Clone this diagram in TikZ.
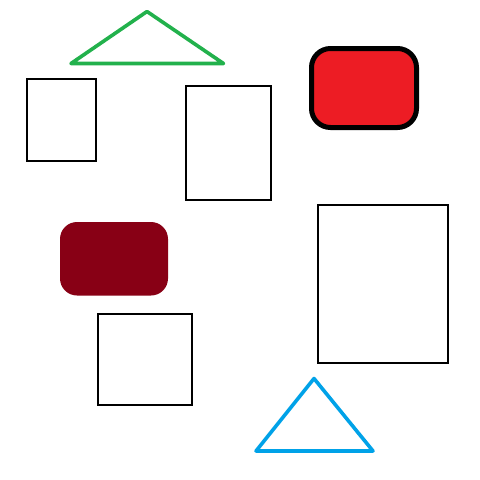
\documentclass[tikz,border=0pt]{standalone}
\usetikzlibrary{calc}
\definecolor{pgreen}{HTML}{22B14C}
\definecolor{pblue}{HTML}{00A2E8}
\definecolor{pred}{HTML}{ED1C24}
\definecolor{pdark}{HTML}{880015}
\begin{document}
\begin{tikzpicture}[x=1pt,y=-1pt,
  box/.style={draw=black,line width=2.6pt},
  tri/.style={line width=3.6pt,line join=round,line cap=round}]
\useasboundingbox (0,0) rectangle (480,480);
\fill[white] (0,0) rectangle (480,480);
% green triangle
\draw[tri,draw=pgreen] (147,11.5) coordinate (ga) -- (71,63.5) coordinate (gl) -- (223.5,63.5) coordinate (gr) -- cycle;
% rectangles
\draw[box] (27,79) rectangle (96,161);
\draw[box] (186,86) rectangle (271,200);
\draw[box] (318,205) rectangle (448,363);
\draw[box] (98,314) rectangle (192,405);
% red rounded rect
\draw[draw=black,fill=pred,line width=5pt,rounded corners=19pt] (311.5,48.5) rectangle (416.5,127.5);
% dark red rounded rect
\fill[pdark,rounded corners=17pt] (60,222) rectangle (168,295.5);
% blue triangle
\draw[tri,draw=pblue] (314,378.5) coordinate (ba) -- (256,451) coordinate (bl) -- (373,451) coordinate (br) -- cycle;
\end{tikzpicture}
\end{document}
